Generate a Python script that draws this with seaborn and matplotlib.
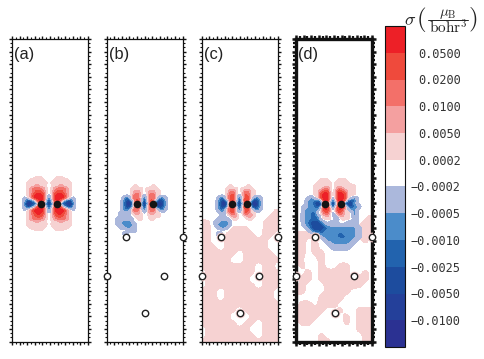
import numpy as np
import matplotlib
matplotlib.use("Agg")
import matplotlib.pyplot as plt
from matplotlib.colors import ListedColormap, BoundaryNorm
from matplotlib.cm import ScalarMappable
from matplotlib.lines import Line2D
import seaborn as sns

# ---- data: band codes ('.'=white, a..e = red bands, A..F = blue bands)
level_labels = ["\u22120.0100", "\u22120.0050", "\u22120.0025", "\u22120.0010", "\u22120.0005", "\u22120.0002",
                "0.0002", "0.0050", "0.0100", "0.0200", "0.0500"]
band_colors = ["#2b3192", "#24409a", "#1d4c9e", "#2263ae", "#4b8cca", "#abb8dc",
               "#ffffff", "#f6d2d2", "#f4a0a0", "#f37069", "#ef4a3c", "#ed2027"]
panel_names = ["(a)", "(b)", "(c)", "(d)"]

# panel (a): right half of the upper half, mirrored in both directions
a_half = ["...aa.....",
          "..aaaaa...",
          ".aaaaaaa..",
          "Aaaabaaa..",
          ".abcccba..",
          ".acddcba..",
          "Aadeedba..",
          "CaeeeebaA.",
          "DAdecBDEB.",
          "FCeeCDEFC."]

b_rows = [".....................",
          "........a.....a......",
          ".......aaaa.aaaa.....",
          ".......abba.abbaa....",
          ".......accaAaccaa....",
          "....ACBbdc.C.cdaBCA..",
          "....BDEBcd.E.dcCEDB..",
          "....BEFDeeBFBeeEFEB..",
          "....BDEBcd.E.dcCEDB..",
          "....BCBbdc.C.cdaBCA..",
          "...AAAAabbaAabbaa....",
          "...AAAA.aaa..aaaa....",
          "..AAAAAA.aa..aa......",
          "..AABBBA.............",
          "..AABBBBA............",
          "...AABBAA............",
          "......AAA............",
          "....AB...............",
          "....................."]

c_rows = [".....................",
          "........a.....a......",
          ".......aaaa.aaaa.....",
          ".......acca.accaa....",
          ".......acdaAadcaa....",
          "....ACBbdd.C.ddaBCA..",
          "....BDEBde.E.edCEDB..",
          "....BEFDeeBFBeeEFEB..",
          "....BDEBde.E.edCEDB..",
          "....BCBbdd.C.ddaBCA..",
          ".....BAacdaAadcaa....",
          ".....AA.abb..abba....",
          "....AAAA.aa...aa.....",
          "...AABBBA............",
          "...ABBBBA............",
          "....ABBA.............",
          ".....................",
          "....BA...............",
          "....................."]

d_rows = ["......................",
          ".......aaa...aaa......",
          "......aaaaa.aaaaa.....",
          ".....aaaaaa.aaaaaaa...",
          ".....aaabca.acbaaaa...",
          ".....aacdea.bedcaaa...",
          ".....aadeeb.beedaaa...",
          "...AB.adeebAbeeda.BA..",
          "..ABBCDBeeaDaeecCDCA..",
          "..ABBDEEeeBFBeeEEEBA..",
          ".AABBCDBeeaDaeecCDCBA.",
          ".ABBBBBadebAbeda.BBA..",
          ".ABBCC.acdaAadcaa.BA..",
          "AABBCCB.abaAAabaa.BA..",
          "AABBCCC.aaa.AAaaa.AA..",
          ".ABCDDDCA.AAA...AAAA..",
          ".ABCDDDDCAAAAAAAAAAA..",
          "..ABDDDDDCBBBBBBBBBAA.",
          "...ACDDDCBBBBBBBBBBAA.",
          ".....AACBBBBBCCBBBBAA.",
          ".......ABBBBBCCCBBBAA.",
          "........ABBBBBBBBBAA..",
          ".........AABBBBBBAA...",
          "..........AAAAAAAA....",
          "...........AAAAAA.....",
          "......................"]

c_field = ["............a",
           "...........aa",
           "aa........aaa",
           "aa...aaa..aaa",
           "aa..aaaaa.aa.",
           "aa..aaaaaaa..",
           "aaa.aaaaaaa..",
           "aaaaaa.aaaaa.",
           "aaaaa..aaaaaa",
           "aaaaaaaaa.aa.",
           ".aaaaaaaa.aaa",
           ".aaaaaaa..aaa",
           ".aaaaaaaa.aaa",
           "aaa.aaaaaaaa.",
           "aaa.aaaaaaaa.",
           "aaaaaaaaaaaaa",
           "aaaaaa.aaaaaa",
           "aaaaa...aaaaa",
           "aaaaaa.aa.aaa",
           ".aaaaaaa..aaa",
           ".aaaaaaaa.aaa",
           "aaaaaaaaaaaaa"]

d_field = ["............a",
           "...........aa",
           "..........aaa",
           "aaa.......aa.",
           "aa.a.......a.",
           "aa.a.........",
           "aa.aa........",
           "aaA.a........",
           ".a..a..aa....",
           "..a.aaaaa..a.",
           ".aa.aaaaa.aa.",
           ".a...a.aaaa..",
           "aa...aaaa....",
           "....aaaa.....",
           ".aa.aaa......",
           "aaaaa..a..aaa",
           "aaaa....a.aaa",
           ".aa.....a.aaa",
           "..........aaa",
           "....a......aa",
           "....aa.....aa"]

atom_x = [[29.3, 45.0], [30.0, 46.0], [30.3, 45.6], [29.0, 45.0]]
atom_y = [164.7, 164.7]
oxygen_x = [19.0, 76.0, 0.0, 57.5, 38.5]
oxygen_y = [198.0, 198.0, 236.7, 236.7, 274.0]

# ---- layout (pixels of the 484x359 canvas)
W, H = 484, 359
panel_left = [12.0, 106.5, 201.7, 296.0]
panel_top, panel_bottom, panel_w = 39.0, 341.7, 76.0
panel_h = panel_bottom - panel_top
STEP_FINE = 3.0
STEP_ROW = panel_h / 48
windows = [(10.0, 137.67), (4.83, 143.67), (4.63, 143.67), (4.0, 137.67)]
field_first_row = [None, None, 27, 28]
field_shift = [0, 0, 0.15, 0.0]

sns.set_theme(style="white")
plt.rcParams["mathtext.fontset"] = "cm"
palette = sns.color_palette(band_colors)
draw_colors = [(1, 1, 1, 0) if c == (1.0, 1.0, 1.0) else c for c in palette]
band_edges = np.arange(-6.5, 6.0, 1.0)


def to_codes(rows):
    order = {".": 0}
    order.update({c: i + 1 for i, c in enumerate("abcde")})
    order.update({c: -(i + 1) for i, c in enumerate("ABCDEF")})
    return np.array([[order[ch] for ch in r] for r in rows], dtype=float)


def rounded(x, y, Z, n, sigma):
    """Round off the corners of the hand-read band grid, only for drawing the contours."""
    xx = np.linspace(x[0], x[-1], (len(x) - 1) * n + 1)
    yy = np.linspace(y[0], y[-1], (len(y) - 1) * n + 1)
    Z1 = np.array([np.interp(xx, x, row) for row in Z])
    Z2 = np.array([np.interp(yy, y, col) for col in Z1.T]).T
    half = int(3 * sigma * n)
    k = np.exp(-0.5 * (np.arange(-half, half + 1) / (sigma * n)) ** 2)
    k /= k.sum()
    P = np.pad(Z2, half, mode="edge")
    P = np.apply_along_axis(lambda v: np.convolve(v, k, mode="valid"), 0, P)
    P = np.apply_along_axis(lambda v: np.convolve(v, k, mode="valid"), 1, P)
    return xx, yy, P


a_up = [r[:0:-1] + r for r in a_half]
a_rows = a_up + a_up[-2::-1]
fine = [a_rows, b_rows, c_rows, d_rows]
fields = [None, None, c_field, d_field]

fig = plt.figure(figsize=(W / 100, H / 100), dpi=100, facecolor="white")

for i, name in enumerate(panel_names):
    ax = fig.add_axes([panel_left[i] / W, 1 - panel_bottom / H, panel_w / W, panel_h / H])
    ax.set_xlim(0, panel_w)
    ax.set_ylim(panel_h, 0)
    ax.set_facecolor("white")
    heavy = i == 3
    if fields[i] is not None:
        Zb = to_codes(fields[i])
        xb = np.linspace(0, panel_w, Zb.shape[1])
        yb = (field_first_row[i] + np.arange(Zb.shape[0])) * STEP_ROW
        xr, yr, Pb = rounded(xb, yb, Zb, 6, 0.35)
        ax.contourf(xr, yr, Pb - field_shift[i], levels=band_edges, colors=draw_colors, zorder=1)
    Z = to_codes(fine[i])
    xf = windows[i][0] + STEP_FINE * np.arange(Z.shape[1])
    yf = windows[i][1] + STEP_FINE * np.arange(Z.shape[0])
    ax.contourf(*rounded(xf, yf, Z, 6, 0.33), levels=band_edges, colors=draw_colors, zorder=2)
    if i >= 1:
        if i >= 2:
            ax.plot(oxygen_x, oxygen_y, ls="", marker="o", ms=7, mfc=band_colors[7], mec="none",
                    clip_on=True, zorder=3)
        ax.plot(oxygen_x, oxygen_y, ls="", marker="o", ms=4.6, mfc="white", mec="#222222",
                mew=1.0, clip_on=False, zorder=6)
    ax.plot(atom_x[i], atom_y, ls="", marker="o", ms=5.5, mfc="#151515", mec="none", zorder=5)
    ax.text(2.2, 15.2, name, family="Liberation Sans", fontsize=11.8, color="#222222",
            ha="left", va="center", zorder=7)
    ax.set_xticks(np.arange(0, panel_w + 0.1, panel_w / 10))
    ax.set_xticks(np.arange(0, panel_w + 0.1, panel_w / 20), minor=True)
    ax.set_yticks(np.arange(0, panel_h + 0.1, panel_h / 24))
    ax.set_yticks(np.arange(0, panel_h + 0.1, panel_h / 72), minor=True)
    lw = 2.4 if heavy else 0.9
    ax.tick_params(which="major", length=2.6 if heavy else 2.3, width=1.8 if heavy else 1.0, direction="out",
                   top=True, bottom=True, left=True, right=True,
                   labelbottom=False, labelleft=False, color="#111111")
    ax.tick_params(which="minor", length=2.0 if heavy else 1.6, width=1.6 if heavy else 0.8, direction="out",
                   top=True, bottom=True, left=True, right=True, color="#111111")
    for s in ax.spines.values():
        s.set_visible(True)
        s.set_linewidth(lw)
        s.set_color("#111111")

# colour bar
cax = fig.add_axes([385.3 / W, 1 - 347 / H, 20 / W, 321 / H])
norm = BoundaryNorm(band_edges, len(band_colors))
sm = ScalarMappable(norm=norm, cmap=ListedColormap(palette))
cb = fig.colorbar(sm, cax=cax, spacing="uniform", ticks=band_edges[1:-1])
cb.set_ticklabels(level_labels)
cb.ax.minorticks_off()
cb.ax.tick_params(which="both", length=0, pad=40, labelsize=8.6, labelcolor="#333333")
for t in cb.ax.get_yticklabels():
    t.set_family("DejaVu Sans Mono")
    t.set_ha("right")
cb.outline.set_linewidth(0.8)
cb.outline.set_edgecolor("#111111")

# axis title assembled from its pieces so the brackets keep the reference's height
title_color = "#222222"
fig.text(410.5 / W, 1 - 20 / H, r"$\sigma$", fontsize=13, ha="center", va="center", color=title_color)
fig.text(421 / W, 1 - 20 / H, r"$($", fontsize=18, ha="center", va="center", color=title_color)
fig.text(448 / W, 1 - 13.5 / H, r"$\mu_{\mathrm{B}}$", fontsize=10.5, ha="center", va="center", color=title_color)
fig.add_artist(Line2D([428 / W, 468 / W], [1 - 20 / H, 1 - 20 / H], color=title_color, lw=0.7))
fig.text(448 / W, 1 - 28 / H, r"$\mathrm{bohr}^{3}$", fontsize=11, ha="center", va="center", color=title_color)
fig.text(473 / W, 1 - 20 / H, r"$)$", fontsize=18, ha="center", va="center", color=title_color)

fig.savefig("out.png", dpi=100)
